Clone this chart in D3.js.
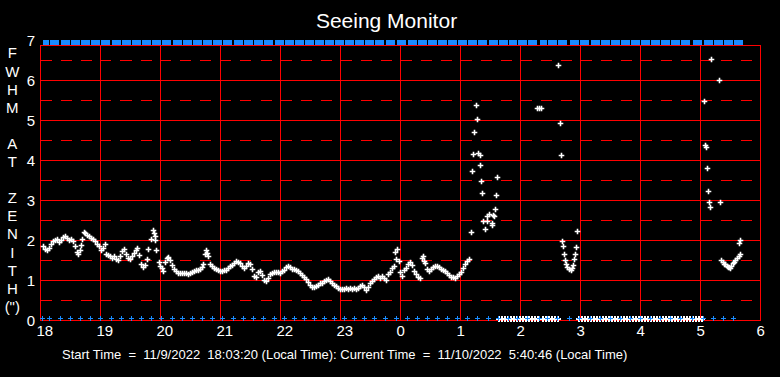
<!DOCTYPE html>
<html>
<head>
<meta charset="utf-8">
<title>Seeing Monitor</title>
<script src="https://cdn.jsdelivr.net/npm/d3@7"></script>
<style>
  html, body { margin: 0; background: #000; }
  svg { display: block; }
  text { font-family: 'Liberation Sans', Arial, sans-serif; fill: #fff; }
</style>
</head>
<body>
<svg></svg>
<script>
/* global d3 */
'use strict'

// all times are minutes after 18:00 (11/9/2022)
const seeingMinutes = [
  // 18h
  3, 5, 7, 9, 11, 13, 15, 17, 19, 21, 23, 25, 27, 29, 31, 33, 35, 37, 38, 40,
  41, 42, 44, 45, 47, 49, 51, 53, 55, 57, 59,
  // 19h
  61, 63, 65, 66, 68, 70, 72, 74, 76, 78, 80, 82, 84, 86, 88, 90, 92, 94, 96, 97,
  99, 101, 103, 105, 107, 108, 111, 113, 114, 115, 115, 116, 119,
  // 20h
  120, 122, 123, 125, 127, 128, 130, 132, 134, 136, 138, 140, 142, 144, 146, 148,
  150, 152, 154, 156, 158, 160, 162, 163, 165, 166, 167, 168, 170, 172, 174, 176, 178,
  // 21h
  180, 182, 184, 186, 188, 190, 192, 194, 196, 198, 200, 202, 204, 206, 208, 210,
  212, 214, 216, 218, 220, 222, 224, 226, 228, 230, 232, 234, 236, 238,
  // 22h
  240, 242, 244, 246, 248, 250, 252, 254, 256, 258, 260, 262, 264, 266, 268, 270,
  272, 274, 276, 278, 280, 282, 284, 286, 288, 290, 292, 294, 296, 298,
  // 23h
  300, 302, 304, 306, 308, 310, 312, 314, 316, 318, 320, 322, 324, 326, 328, 330,
  332, 334, 336, 338, 340, 342, 344, 346, 348, 350, 352, 354, 355, 356, 357, 359,
  // 0h - 1h
  360, 362, 364, 366, 368, 370, 372, 374, 376, 378, 380, 382, 383, 384, 385, 387,
  389, 391, 393, 395, 397, 399, 401, 403, 405, 407, 409, 411, 413, 415, 417, 419,
  421, 423, 425, 427, 429, 431,
  // scattered after 1h
  432.3, 433.3, 434.3, 435.7, 436.7, 438.3, 439.7, 440.3, 441.3, 442.3, 443.3, 445,
  446.7, 446.7, 449.3, 452.3, 452.3, 453.3, 454.3, 455.3, 456.3, 457.3,
  496.7, 498.5, 500.7, 518.3, 520.3, 521.3,
  522.3, 523.3, 524.3, 525.3, 526.3, 527.3, 529.3, 531, 532.3, 533, 534.3, 535.3,
  536.3, 537.3,
  // after 5h
  664, 665.3, 666.3, 667.3, 668.3, 669.3, 670.3, 671.3, 679.3, 680.3,
  681, 683, 684, 685, 687, 688, 689, 690, 691, 693, 694, 695, 697, 699, 699.3, 700, 700.3
]
const seeingFwhm = [
  1.85, 1.78, 1.75, 1.8, 1.9, 1.97, 2.0, 2.03, 1.95, 2.0, 2.08, 2.1, 2.05, 2.0, 2.03, 1.98, 1.85, 1.7, 1.65, 1.75,
  1.88, 2.02, 2.2, 2.18, 2.12, 2.1, 2.05, 2.02, 1.97, 1.9, 1.85,
  1.75, 1.8, 1.9, 1.65, 1.62, 1.6, 1.55, 1.6, 1.52, 1.5, 1.6, 1.72, 1.78, 1.65, 1.55, 1.52, 1.6, 1.68, 1.75, 1.8,
  1.62, 1.4, 1.32, 1.38, 1.53, 1.78, 2.03, 2.25, 2.18, 2.1, 2.0, 1.75, 1.45,
  1.35, 1.3, 1.22, 1.45, 1.55, 1.58, 1.5, 1.38, 1.28, 1.22, 1.18, 1.17, 1.18, 1.17, 1.18, 1.15,
  1.17, 1.2, 1.22, 1.25, 1.25, 1.28, 1.32, 1.4, 1.65, 1.75, 1.68, 1.6, 1.4, 1.35, 1.3, 1.27, 1.25,
  1.23, 1.22, 1.24, 1.25, 1.3, 1.35, 1.38, 1.42, 1.48, 1.45, 1.42, 1.35, 1.3, 1.35, 1.42, 1.4,
  1.27, 1.1, 1.08, 1.2, 1.22, 1.12, 1.0, 0.98, 1.05, 1.15, 1.18, 1.2, 1.2, 1.2,
  1.18, 1.22, 1.25, 1.32, 1.35, 1.33, 1.28, 1.27, 1.25, 1.22, 1.18, 1.12, 1.08, 1.02, 0.95, 0.88,
  0.83, 0.82, 0.85, 0.88, 0.92, 0.93, 0.97, 1.0, 1.02, 0.97, 0.92, 0.88, 0.85, 0.8,
  0.78, 0.77, 0.78, 0.79, 0.78, 0.79, 0.78, 0.79, 0.78, 0.8, 0.85, 0.88, 0.82, 0.76, 0.82, 0.92,
  0.98, 1.03, 1.08, 1.1, 1.06, 1.1, 1.05, 1.0, 1.15, 1.2, 1.3, 1.35, 1.7, 1.53, 1.78, 1.48,
  1.2, 1.1, 1.25, 1.3, 1.4, 1.45, 1.38, 1.22, 1.15, 1.08, 1.05, 1.55, 1.6, 1.48, 1.42, 1.28,
  1.22, 1.27, 1.32, 1.35, 1.35, 1.32, 1.28, 1.25, 1.22, 1.18, 1.12, 1.08, 1.07, 1.05, 1.1, 1.15,
  1.2, 1.3, 1.4, 1.48, 1.52, 2.2,
  3.73, 4.15, 4.7, 5.38, 5.03, 4.18, 4.13, 3.88, 3.48, 3.18, 2.48, 2.28,
  2.61, 2.48, 2.65, 2.43, 2.37, 2.62, 2.59, 2.78, 3.13, 3.58,
  5.3, 5.3, 5.3, 6.38, 4.93, 4.13,
  1.98, 1.84, 1.65, 1.51, 1.4, 1.32, 1.28, 1.26, 1.3, 1.38, 1.53, 1.65,
  1.83, 2.23,
  5.48, 4.38, 4.33, 3.8, 3.23, 2.94, 2.83, 6.53, 6.0, 2.95,
  1.5, 1.45, 1.4, 1.4, 1.35, 1.33, 1.32, 1.3, 1.35, 1.42, 1.45, 1.5, 1.55, 1.6, 1.93, 1.65, 2.0
]
// readings that returned zero (no star)
const zeroMinutes = [
  458, 461, 464, 467, 470, 473, 476, 479, 482, 485, 488, 491, 494, 497,
  502, 505, 508, 511, 514, 517,
  538, 541, 544, 547, 550, 553, 556, 559, 562, 565, 568, 571, 574, 577, 580, 583,
  586, 589, 592, 595, 598, 601, 604, 607, 610, 613, 616, 619, 622, 625, 628, 631,
  634, 637, 640, 643, 646, 649, 652, 655, 658, 661
]
// status samples (blue, drawn on the 0 and 7 lines)
const statusMinutes = [
  2, 9, 20, 30, 40, 50, 60, 71, 81, 91, 101, 111, 121, 132, 142, 152, 162, 172,
  182, 193, 203, 213, 223, 234, 244, 254, 264, 274, 284, 294, 304, 314, 324, 334,
  345, 356, 367, 377, 387, 397, 407, 417, 427, 437, 448, 458, 468, 477, 487, 499,
  507, 517, 529, 539, 550, 560, 570, 580, 590, 600, 610, 620, 630, 640, 652, 663,
  673, 683, 693
]
const hourTicks = [18, 19, 20, 21, 22, 23, 24, 25, 26, 27, 28, 29, 30]
const hourLabels = ['18', '19', '20', '21', '22', '23', '0', '1', '2', '3', '4', '5', '6']
const fwhmTicks = [0, 1, 2, 3, 4, 5, 6, 7]
const fwhmHalfTicks = [0.5, 1.5, 2.5, 3.5, 4.5, 5.5, 6.5]
const yTitle = ['F', 'W', 'H', 'M', '', 'A', 'T', '', 'Z', 'E', 'N', 'I', 'T', 'H', '(")']
const title = 'Seeing Monitor'
const footer = 'Start Time  =  11/9/2022  18:03:20 (Local Time): Current Time  =  11/10/2022  5:40:46 (Local Time)'

const width = 780
const height = 377
const red = '#ff0000'
const blue = '#1a8cff'

const svg = d3.select('svg')
  .attr('width', width)
  .attr('height', height)
  .style('background', '#000')

const x = d3.scaleLinear().domain([18, 30]).range([40.5, 760.5])
const y = d3.scaleLinear().domain([0, 7]).range([320.5, 40.5])
const hour = m => 18 + m / 60
const px = v => Math.floor(x(v)) + 0.5
const py = v => Math.floor(y(v)) + 0.5
const frameTop = y(7) + 5

function plus (sel, size) {
  return sel.append('path')
    .attr('d', `M${-size},0H${size}M0,${-size}V${size}`)
}

function drawGrid () {
  const g = svg.append('g')
    .attr('stroke', red)
    .attr('shape-rendering', 'crispEdges')

  g.selectAll('line.half')
    .data(fwhmHalfTicks)
    .enter().append('line')
    .attr('class', 'half')
    .attr('x1', x(18)).attr('x2', x(30))
    .attr('y1', d => y(d)).attr('y2', d => y(d))
    .attr('stroke-dasharray', '11,9')

  g.selectAll('line.whole')
    .data(fwhmTicks.slice(1, -1))
    .enter().append('line')
    .attr('class', 'whole')
    .attr('x1', x(18)).attr('x2', x(30))
    .attr('y1', d => y(d)).attr('y2', d => y(d))

  g.selectAll('line.hour')
    .data(hourTicks.slice(1, -1))
    .enter().append('line')
    .attr('class', 'hour')
    .attr('x1', d => x(d)).attr('x2', d => x(d))
    .attr('y1', frameTop).attr('y2', y(0))

  g.append('rect')
    .attr('x', x(18))
    .attr('y', frameTop)
    .attr('width', x(30) - x(18))
    .attr('height', y(0) - frameTop)
    .attr('fill', 'none')
}

function drawAxes () {
  const xAxis = d3.axisBottom(x)
    .tickValues(hourTicks)
    .tickSize(0)
    .tickFormat((d, i) => hourLabels[i])
  const gx = svg.append('g')
    .attr('transform', `translate(0,${y(0)})`)
    .call(xAxis)
  gx.select('.domain').remove()
  gx.selectAll('text')
    .attr('y', 15)
    .attr('x', -4.5)
    .attr('dy', 0)
    .attr('text-anchor', 'start')
    .attr('fill', '#fff')
    .style('font-size', '15px')

  const yAxis = d3.axisLeft(y)
    .tickValues(fwhmTicks)
    .tickSize(0)
    .tickPadding(5.5)
    .tickFormat(d3.format('d'))
  const gy = svg.append('g')
    .attr('transform', `translate(${x(18)},0)`)
    .call(yAxis)
  gy.select('.domain').remove()
  gy.selectAll('text')
    .attr('fill', '#fff')
    .attr('dy', '0.36em')
    .style('font-size', '15px')

  const letterY = d3.scalePoint()
    .domain(d3.range(yTitle.length))
    .range([53, 306.4])
  svg.append('g')
    .selectAll('text')
    .data(yTitle)
    .enter().append('text')
    .attr('x', 12.3)
    .attr('y', (d, i) => letterY(i))
    .attr('dy', '0.36em')
    .attr('text-anchor', 'middle')
    .style('font-size', '15px')
    .text(d => d)

  svg.append('text')
    .attr('x', 386.5)
    .attr('y', 28)
    .attr('text-anchor', 'middle')
    .style('font-size', '21px')
    .text(title)

  svg.append('text')
    .attr('x', 62)
    .attr('y', 359)
    .style('font-size', '13px')
    .style('white-space', 'pre')
    .text(footer)
}

function drawMarks () {
  // zero readings along the bottom
  svg.append('g')
    .attr('stroke', '#fff')
    .attr('stroke-width', 2)
    .attr('shape-rendering', 'crispEdges')
    .selectAll('g')
    .data(zeroMinutes)
    .enter().append('g')
    .attr('transform', d => `translate(${px(hour(d))},${py(0) - 2})`)
    .call(plus, 3)

  // status samples, bottom row
  svg.append('g')
    .attr('stroke', blue)
    .attr('shape-rendering', 'crispEdges')
    .selectAll('g')
    .data(statusMinutes)
    .enter().append('g')
    .attr('transform', d => `translate(${px(hour(d))},${py(0) - 2})`)
    .call(plus, 2.5)

  // status samples, top row (clipped at 7)
  svg.append('g')
    .attr('fill', blue)
    .attr('shape-rendering', 'crispEdges')
    .selectAll('rect')
    .data(statusMinutes)
    .enter().append('rect')
    .attr('x', d => px(hour(d)) + 0.5)
    .attr('y', y(7) - 0.5)
    .attr('width', (d, i) => {
      const next = i < statusMinutes.length - 1 ? statusMinutes[i + 1] : d + 10
      return x(hour(Math.min(next - d, 10))) - x(18) - 1
    })
    .attr('height', 5)

  // seeing values
  svg.append('g')
    .attr('stroke', '#fff')
    .attr('stroke-width', 1.6)
    .selectAll('g')
    .data(seeingMinutes.map((m, i) => ({ t: hour(m), v: seeingFwhm[i] })))
    .enter().append('g')
    .attr('transform', d => `translate(${px(d.t)},${py(d.v)})`)
    .call(plus, 2.8)
}

drawGrid()
drawMarks()
drawAxes()
</script>
</body>
</html>
